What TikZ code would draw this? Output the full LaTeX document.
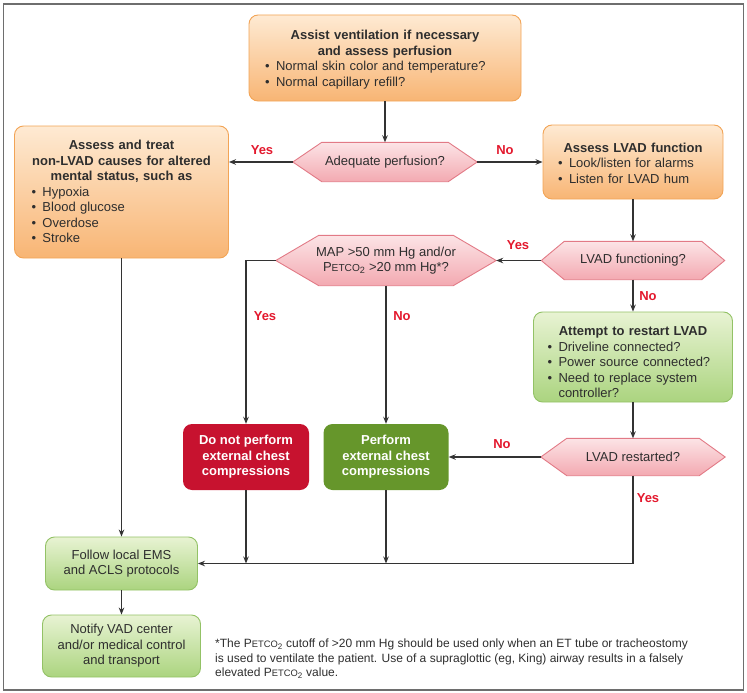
\documentclass[tikz,border=0pt]{standalone}
\usepackage{fontspec}
\setmainfont{Liberation Sans}
\usetikzlibrary{arrows.meta,backgrounds,calc}
\definecolor{txt}{HTML}{2E2E2E}
\definecolor{lncol}{HTML}{333333}
\definecolor{framecol}{HTML}{6E6E6E}
\definecolor{labred}{HTML}{E3182D}
\definecolor{ortop}{HTML}{FEEAD3}
\definecolor{orbot}{HTML}{F8B574}
\definecolor{orline}{HTML}{F2A456}
\definecolor{grtop}{HTML}{E8F3D3}
\definecolor{grbot}{HTML}{ABD47F}
\definecolor{grline}{HTML}{93C266}
\definecolor{hextop}{HTML}{FCE4E6}
\definecolor{hexbot}{HTML}{F3A9B1}
\definecolor{hexline}{HTML}{E27A86}
\definecolor{redbox}{HTML}{C7122F}
\definecolor{dgrbox}{HTML}{66962B}
\newcommand\petco{P\scalebox{0.78}{ETCO}\textsubscript{2}}
\newcommand\ttl[1]{{\noindent\centering\bfseries #1\par}}
\newcommand\bul[2][0pt]{{\raggedright\leftskip=#1\noindent\makebox[11pt][l]{\textbullet}\begin{tabular}[t]{@{}l@{}}#2\end{tabular}\par}}
\newcommand\dn[1]{\par\vspace*{-#1}}
\begin{document}
\begin{tikzpicture}[x=1pt,y=-1pt,
  font=\fontsize{13}{15.5}\selectfont,
  conn/.style={draw=lncol, line width=1.4pt, -{Stealth[length=7pt,width=5.5pt]}},
  lab/.style={text=labred, font=\fontsize{13}{15}\selectfont\bfseries, inner sep=0pt},
  obox/.style={draw=orline, line width=0.9pt, rounded corners=9pt, top color=ortop, bottom color=orbot, inner sep=0pt, text=txt},
  gbox/.style={draw=grline, line width=0.9pt, rounded corners=9pt, top color=grtop, bottom color=grbot, inner sep=0pt, text=txt},
  hexn/.style={inner sep=0pt, align=center, text=txt},
  sbox/.style={rounded corners=9pt, inner sep=0pt, align=center, text=white, font=\fontsize{13}{15.5}\selectfont\bfseries}]
\useasboundingbox (0,0) rectangle (747,693);
\draw[framecol, line width=1.5pt] (3.5,4) rectangle (743.5,690);

% boxes
\node[obox, minimum width=272pt, minimum height=86pt, text width=240pt] (top) at (385,58)
  {\ttl{Assist ventilation if necessary\\and assess perfusion}\bul{Normal skin color and temperature?}\bul{Normal capillary refill?}\dn{5pt}};
\node[obox, minimum width=214pt, minimum height=132pt, text width=194pt] (lft) at (121.5,192)
  {\ttl{Assess and treat\\non-LVAD causes for altered\\mental status, such as}\bul[7pt]{Hypoxia}\bul[7pt]{Blood glucose}\bul[7pt]{Overdose}\bul[7pt]{Stroke}\dn{4pt}};
\node[obox, minimum width=180pt, minimum height=74pt, text width=150pt] (rgt) at (633,162)
  {\ttl{Assess LVAD function}\bul{Look/listen for alarms}\bul{Listen for LVAD hum}\dn{7pt}};
\node[gbox, minimum width=199pt, minimum height=90pt, text width=171pt] (att) at (633,357)
  {\ttl{Attempt to restart LVAD}\bul{Driveline connected?}\bul{Power source connected?}\bul{Need to replace system\\controller?}\dn{15pt}};
\node[sbox, fill=redbox, minimum width=126pt, minimum height=66pt] (dnp) at (246,457)
  {Do not perform\\external chest\\compressions};
\node[sbox, fill=dgrbox, minimum width=125pt, minimum height=66pt] (prf) at (386,457)
  {Perform\\external chest\\compressions};
\node[gbox, align=center, minimum width=152pt, minimum height=53pt] (fol) at (121.5,563.5)
  {Follow local EMS\\and ACLS protocols};
\node[gbox, align=center, minimum width=158pt, minimum height=62pt] (ntf) at (121.5,646)
  {Notify VAD center\\and/or medical control\\and transport};

% hexagons (decision nodes)
\node[hexn, minimum width=184pt, minimum height=39pt] (hA) at (385,162) {Adequate perfusion?};
\node[hexn, minimum width=183pt, minimum height=38pt] (hB) at (633,260.5) {LVAD functioning?};
\node[hexn, minimum width=220pt, minimum height=50pt] (hC) at (386,260.5) {MAP >50 mm Hg and/or\\\petco{} >20 mm Hg*?};
\node[hexn, minimum width=184pt, minimum height=37pt] (hD) at (633,457) {LVAD restarted?};
\begin{scope}[on background layer]
  \foreach \n/\d in {hA/29,hB/23,hC/43,hD/26}{
    \shade[draw=hexline, line width=0.9pt, top color=hextop, bottom color=hexbot]
      (\n.west) -- ([xshift=\d]\n.north west) -- ([xshift=-\d]\n.north east) -- (\n.east)
      -- ([xshift=-\d]\n.south east) -- ([xshift=\d]\n.south west) -- cycle;
  }
\end{scope}

% connectors
\draw[conn] (top.south) -- (top.south |- hA.north);
\draw[conn] (hA.west) -- (hA.west -| lft.east);
\draw[conn] (hA.east) -- (hA.east -| rgt.west);
\draw[conn] (rgt.south) -- (rgt.south |- hB.north);
\draw[conn] (hB.west) -- (hB.west -| hC.east);
\draw[conn] (hC.west) -| (dnp.north);
\draw[conn] (hC.south) -- (hC.south |- prf.north);
\draw[conn] (hB.south) -- (hB.south |- att.north);
\draw[conn] (att.south) -- (att.south |- hD.north);
\draw[conn] (hD.west) -- (hD.west -| prf.east);
\draw[conn] (hD.south) |- (fol.east);
\draw[conn] (dnp.south) -- (dnp.south |- fol.east);
\draw[conn] (prf.south) -- (prf.south |- fol.east);
\draw[conn] (lft.south) -- (lft.south |- fol.north);
\draw[conn] (fol.south) -- (fol.south |- ntf.north);

% labels
\node[lab] (l1) at (262,150) {Yes};
\node[lab] (l2) at (505,150) {No};
\node[lab] (l3) at (518,245) {Yes};
\node[lab] (l4) at (265,316) {Yes};
\node[lab] (l5) at (402,316) {No};
\node[lab] (l6) at (648,296) {No};
\node[lab] (l7) at (502,444) {No};
\node[lab] (l8) at (648,498) {Yes};

% footnote
\node[anchor=north west, align=left, inner sep=0pt, text=txt, font=\fontsize{12}{14.5}\selectfont] (fn) at (215,639)
  {*The \petco{} cutoff of >20 mm Hg should be used only when an ET tube or tracheostomy\\
   is used to ventilate the patient. Use of a supraglottic (eg, King) airway results in a falsely\\
   elevated \petco{} value.};
\end{tikzpicture}
\end{document}
